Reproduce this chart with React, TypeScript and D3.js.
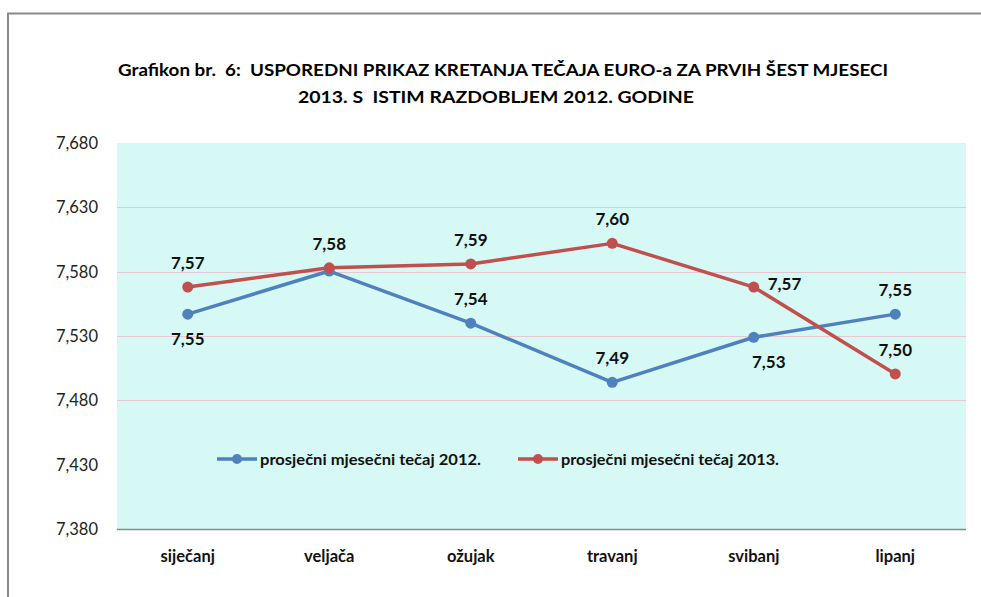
import React, { useEffect, useRef } from "react";
import * as d3 from "d3";

const months = ["siječanj", "veljača", "ožujak", "travanj", "svibanj", "lipanj"];
const rate2012 = [7.547, 7.5805, 7.54, 7.494, 7.529, 7.547];
const rate2013 = [7.568, 7.583, 7.586, 7.602, 7.568, 7.5005];
const yTicks = [7.38, 7.43, 7.48, 7.53, 7.58, 7.63, 7.68];
const seriesNames = ["prosječni mjesečni tečaj 2012.", "prosječni mjesečni tečaj 2013."];
// where each data label goes relative to its point: a = above, b = below, r = right, n = none
const labelPos2012 = ["b", "n", "a", "a", "b", "a"];
const labelPos2013 = ["a", "a", "a", "a", "r", "a"];

const colors = ["#4f81bd", "#c0504d"];
const FONT = "Lato, 'Open Sans', sans-serif";

export default function App() {
  const ref = useRef<SVGSVGElement>(null);

  useEffect(() => {
    const svg = d3.select(ref.current);
    svg.selectAll("*").remove();

    const left = 117, right = 966, top = 143, bottom = 529;

    const x = d3.scaleBand().domain(months).range([left, right]);
    const y = d3.scaleLinear().domain([7.38, 7.68]).range([bottom, top]);
    const cx = (m: string) => (x(m) as number) + x.bandwidth() / 2;

    // outer frame
    svg.append("path").attr("d", "M8,597 V13.5 H981").attr("fill", "none").attr("stroke", "#8a8a8a").attr("stroke-width", 2);

    // title
    svg.append("text").attr("x", 503).attr("y", 76).attr("text-anchor", "middle")
      .style("white-space", "pre")
      .attr("font-family", FONT).attr("font-weight", "bold").attr("font-size", 17)
      .attr("textLength", 770).attr("lengthAdjust", "spacingAndGlyphs")
      .text("Grafikon br.  6:  USPOREDNI PRIKAZ KRETANJA TEČAJA EURO-a ZA PRVIH ŠEST MJESECI");
    svg.append("text").attr("x", 496).attr("y", 103).attr("text-anchor", "middle")
      .style("white-space", "pre")
      .attr("font-family", FONT).attr("font-weight", "bold").attr("font-size", 17)
      .attr("textLength", 396).attr("lengthAdjust", "spacingAndGlyphs")
      .text("2013. S  ISTIM RAZDOBLJEM 2012. GODINE");

    // plot background
    svg.append("rect").attr("x", left).attr("y", top).attr("width", right - left).attr("height", bottom - top)
      .attr("fill", "#d6f9f5");

    // grid
    svg.append("g").selectAll("line").data(yTicks.slice(1, -1)).join("line")
      .attr("x1", left).attr("x2", right)
      .attr("y1", d => Math.round(y(d)) + 0.5).attr("y2", d => Math.round(y(d)) + 0.5)
      .attr("stroke", "#e3c9d1").attr("stroke-width", 1);

    // y axis labels
    svg.append("g").selectAll("text").data(yTicks).join("text")
      .attr("x", 98).attr("y", d => y(d) + 6).attr("text-anchor", "end")
      .attr("font-family", FONT).attr("font-size", 16.5).attr("fill", "#222")
      .text(d => d3.format(".3f")(d).replace(".", ","));

    // legend box (covers grid line)
    const legY = 459;
    svg.append("rect").attr("x", left).attr("y", 432).attr("width", right - left).attr("height", 52).attr("fill", "#d6f9f5");
    const legX = [217, 518];
    const legLen = [221, 218];
    seriesNames.forEach((name, i) => {
      const g = svg.append("g");
      g.append("line").attr("x1", legX[i]).attr("x2", legX[i] + 40).attr("y1", legY).attr("y2", legY)
        .attr("stroke", colors[i]).attr("stroke-width", 3.5);
      g.append("circle").attr("cx", legX[i] + 20).attr("cy", legY).attr("r", 5).attr("fill", colors[i]);
      g.append("text").attr("x", legX[i] + 43).attr("y", legY + 5.5)
        .attr("font-family", FONT).attr("font-weight", "bold").attr("font-size", 16).attr("fill", "#111")
        .attr("textLength", legLen[i]).attr("lengthAdjust", "spacingAndGlyphs")
        .text(name);
    });

    // x axis
    svg.append("line").attr("x1", left).attr("x2", right).attr("y1", bottom + 0.5).attr("y2", bottom + 0.5)
      .attr("stroke", "#7f8a8a").attr("stroke-width", 1.5);
    svg.append("g").selectAll("text").data(months).join("text")
      .attr("x", d => cx(d)).attr("y", 562).attr("text-anchor", "middle")
      .attr("font-family", FONT).attr("font-weight", "bold").attr("font-size", 16.5).attr("fill", "#111")
      .text(d => d);

    // lines
    const line = d3.line<number>().x((_, i) => cx(months[i])).y(d => y(d));
    [rate2012, rate2013].forEach((series, s) => {
      svg.append("path").attr("d", line(series)).attr("fill", "none")
        .attr("stroke", colors[s]).attr("stroke-width", 3.5).attr("stroke-linejoin", "round");
      svg.append("g").selectAll("circle").data(series).join("circle")
        .attr("cx", (_, i) => cx(months[i])).attr("cy", d => y(d)).attr("r", 5.5).attr("fill", colors[s]);
    });

    // data labels
    const fmt = (v: number) => d3.format(".2f")(v).replace(".", ",");
    [[rate2012, labelPos2012], [rate2013, labelPos2013]].forEach(([series, pos]) => {
      (series as number[]).forEach((v, i) => {
        const p = (pos as string[])[i];
        if (p === "n") return;
        let tx = cx(months[i]);
        let ty = y(v);
        let anchor = "middle";
        if (p === "a") ty -= 18;
        else if (p === "b") ty += 31;
        else if (p === "r") { tx += 14; ty += 3; anchor = "start"; }
        if (p === "b" && i === 4) tx += 15;
        svg.append("text").attr("x", tx).attr("y", ty).attr("text-anchor", anchor)
          .attr("font-family", FONT).attr("font-weight", "bold").attr("font-size", 17).attr("fill", "#111")
          .text(fmt(v));
      });
    });
  }, []);

  return (
    <svg ref={ref} width={981} height={597}
      style={{ position: "absolute", left: 0, top: 0, background: "#fff" }} />
  );
}
